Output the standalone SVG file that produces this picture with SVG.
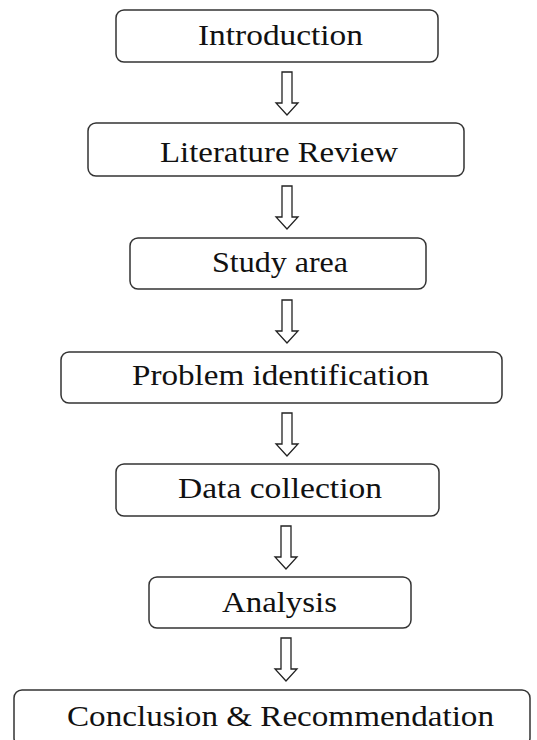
<svg xmlns="http://www.w3.org/2000/svg" width="537" height="740" viewBox="0 0 537 740">
<defs>
<style>
.box{fill:#ffffff;stroke:#333333;stroke-width:1.5}
.lbl{font-family:"Liberation Serif","Times New Roman",serif;font-size:30px;fill:#111111;text-anchor:middle}
.arr{fill:#ffffff;stroke:#222222;stroke-width:1.3;stroke-linejoin:miter}
</style>
<path id="arrow" d="M -5 0 H 5 V 31 H 11 L 0 43 L -11 31 H -5 Z"/>
</defs>
<rect width="537" height="740" fill="#ffffff"/>
<g id="connectors">
<use href="#arrow" class="arr" transform="translate(287,72)"/>
<use href="#arrow" class="arr" transform="translate(287,186)"/>
<use href="#arrow" class="arr" transform="translate(287,300)"/>
<use href="#arrow" class="arr" transform="translate(287,413)"/>
<use href="#arrow" class="arr" transform="translate(286,526)"/>
<use href="#arrow" class="arr" transform="translate(286,638)"/>
</g>
<g id="introduction">
<rect class="box" x="116" y="10" width="322" height="52" rx="8"/>
<text class="lbl" x="280.5" y="45" textLength="165" lengthAdjust="spacingAndGlyphs">Introduction</text>
</g>
<g id="literature-review">
<rect class="box" x="88" y="123" width="376" height="53" rx="8"/>
<text class="lbl" x="279" y="162" textLength="238" lengthAdjust="spacingAndGlyphs">Literature Review</text>
</g>
<g id="study-area">
<rect class="box" x="130" y="238" width="296" height="51" rx="8"/>
<text class="lbl" x="280" y="272" textLength="136" lengthAdjust="spacingAndGlyphs">Study area</text>
</g>
<g id="problem-identification">
<rect class="box" x="61" y="352" width="441" height="51" rx="8"/>
<text class="lbl" x="280.5" y="385" textLength="297" lengthAdjust="spacingAndGlyphs">Problem identification</text>
</g>
<g id="data-collection">
<rect class="box" x="116" y="464" width="323" height="52" rx="8"/>
<text class="lbl" x="280" y="498" textLength="204" lengthAdjust="spacingAndGlyphs">Data collection</text>
</g>
<g id="analysis">
<rect class="box" x="149" y="577" width="262" height="51" rx="8"/>
<text class="lbl" x="279.5" y="612" textLength="115" lengthAdjust="spacingAndGlyphs">Analysis</text>
</g>
<g id="conclusion-recommendation">
<rect class="box" x="14" y="690" width="516" height="56" rx="8"/>
<text class="lbl" x="280.5" y="726" textLength="427" lengthAdjust="spacingAndGlyphs">Conclusion &amp; Recommendation</text>
</g>
</svg>
